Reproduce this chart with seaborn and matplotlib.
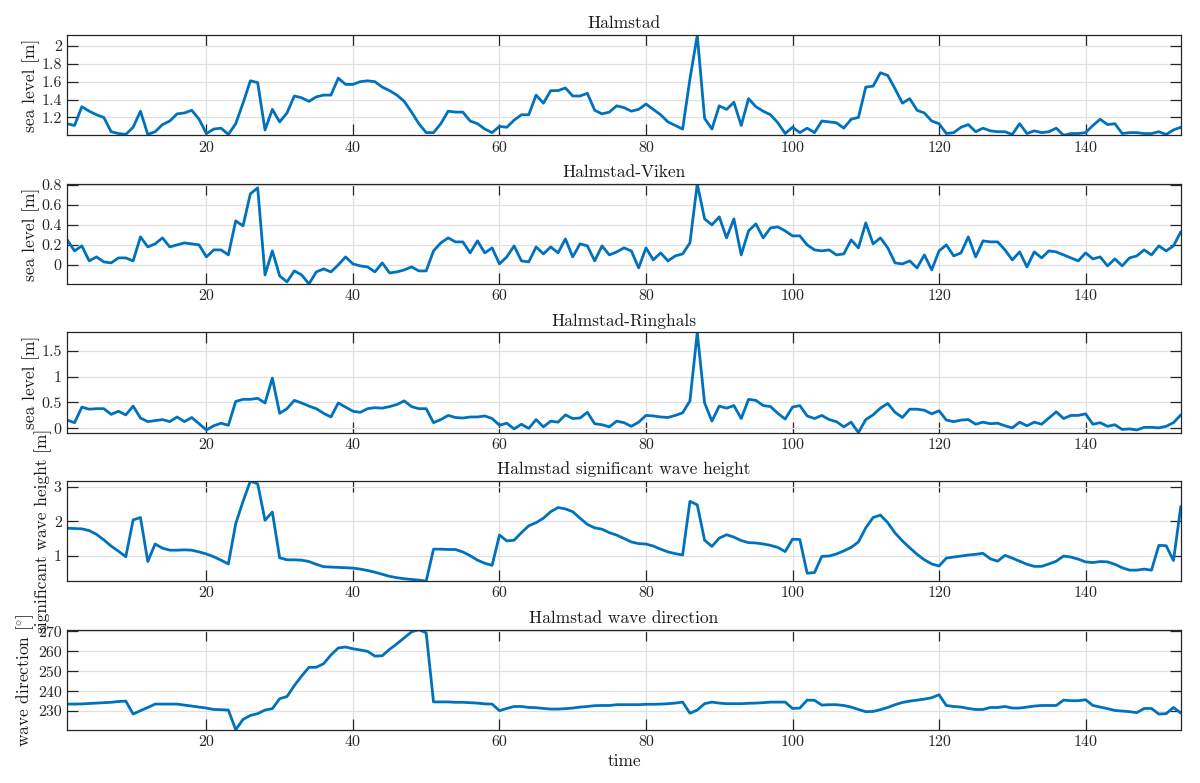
import numpy as np
import pandas as pd
import matplotlib
matplotlib.use("Agg")
import matplotlib.pyplot as plt
from matplotlib.ticker import FuncFormatter, FixedLocator
import seaborn as sns

time = list(range(1, 154))

halmstad = [
    1.13,1.11,1.32,1.27,1.23,1.2,1.04,1.02,1.01,1.09,
    1.27,1.01,1.04,1.12,1.16,1.24,1.25,1.28,1.18,1.02,
    1.07,1.08,1.01,1.13,1.36,1.61,1.59,1.06,1.29,1.15,
    1.25,1.44,1.42,1.38,1.43,1.45,1.45,1.64,1.57,1.57,
    1.6,1.61,1.6,1.54,1.5,1.45,1.38,1.26,1.13,1.03,
    1.03,1.13,1.27,1.26,1.26,1.16,1.13,1.07,1.03,1.1,
    1.09,1.17,1.23,1.23,1.45,1.36,1.5,1.5,1.53,1.44,
    1.44,1.47,1.28,1.24,1.26,1.33,1.31,1.27,1.29,1.35,
    1.29,1.23,1.15,1.11,1.07,1.63,2.12,1.19,1.07,1.33,
    1.29,1.37,1.11,1.41,1.32,1.27,1.23,1.14,1.02,1.09,
    1.03,1.08,1.03,1.16,1.15,1.14,1.08,1.18,1.2,1.54,
    1.55,1.7,1.67,1.52,1.36,1.41,1.28,1.25,1.16,1.13,
    1.02,1.03,1.09,1.12,1.04,1.08,1.05,1.04,1.04,1.01,
    1.13,1.02,1.05,1.03,1.04,1.08,1.0,1.02,1.02,1.03,
    1.11,1.18,1.12,1.13,1.02,1.03,1.03,1.02,1.02,1.04,
    1.01,1.06,1.09]

viken = [
    0.25,0.14,0.19,0.04,0.08,0.03,0.02,0.07,0.07,0.04,
    0.28,0.18,0.21,0.27,0.18,0.2,0.22,0.21,0.2,0.08,
    0.15,0.15,0.1,0.44,0.39,0.71,0.77,-0.1,0.14,-0.11,
    -0.17,-0.06,-0.1,-0.19,-0.07,-0.04,-0.07,0.0,0.08,0.01,
    -0.01,-0.02,-0.07,0.02,-0.08,-0.07,-0.05,-0.02,-0.06,-0.06,
    0.14,0.22,0.27,0.23,0.23,0.12,0.24,0.12,0.17,0.01,
    0.08,0.19,0.04,0.03,0.18,0.11,0.18,0.12,0.26,0.08,
    0.21,0.19,0.04,0.19,0.1,0.13,0.17,0.14,-0.03,0.17,
    0.05,0.12,0.04,0.09,0.11,0.22,0.81,0.46,0.4,0.48,
    0.27,0.46,0.1,0.34,0.41,0.27,0.37,0.38,0.34,0.29,
    0.29,0.2,0.15,0.14,0.15,0.1,0.11,0.25,0.17,0.42,
    0.21,0.27,0.17,0.02,0.01,0.04,-0.03,0.1,-0.05,0.14,
    0.2,0.09,0.12,0.28,0.08,0.24,0.23,0.23,0.15,0.05,
    0.13,-0.02,0.13,0.07,0.14,0.13,0.1,0.07,0.04,0.12,
    0.06,0.08,-0.01,0.06,-0.01,0.07,0.09,0.15,0.1,0.19,
    0.14,0.19,0.33]

ringhals = [
    0.16,0.11,0.41,0.37,0.38,0.38,0.27,0.33,0.26,0.43,
    0.2,0.13,0.15,0.17,0.13,0.22,0.13,0.21,0.09,-0.03,
    0.05,0.1,0.06,0.52,0.56,0.56,0.58,0.49,0.97,0.29,
    0.38,0.54,0.49,0.43,0.38,0.29,0.22,0.49,0.41,0.33,
    0.31,0.38,0.4,0.39,0.42,0.46,0.53,0.42,0.38,0.38,
    0.11,0.17,0.25,0.21,0.2,0.22,0.22,0.24,0.19,0.06,
    0.1,-0.01,0.08,0.0,0.17,0.03,0.14,0.12,0.26,0.19,
    0.2,0.31,0.09,0.07,0.03,0.14,0.11,0.04,0.12,0.25,
    0.24,0.22,0.21,0.25,0.3,0.53,1.85,0.49,0.14,0.43,
    0.39,0.44,0.19,0.56,0.54,0.44,0.42,0.29,0.18,0.41,
    0.44,0.24,0.19,0.25,0.17,0.13,0.03,0.12,-0.08,0.17,
    0.26,0.39,0.48,0.31,0.21,0.37,0.37,0.35,0.28,0.34,
    0.16,0.13,0.16,0.17,0.08,0.12,0.09,0.1,0.05,0.01,
    0.12,0.05,0.12,0.08,0.2,0.32,0.19,0.25,0.25,0.28,
    0.08,0.11,0.04,0.07,-0.02,-0.01,-0.03,0.02,0.02,0.01,
    0.04,0.11,0.26]

wave_height = [
    1.8,1.79,1.78,1.73,1.62,1.46,1.28,1.13,0.97,2.04,
    2.11,0.83,1.34,1.22,1.16,1.16,1.17,1.16,1.11,1.05,
    0.97,0.87,0.76,1.93,2.58,3.17,3.09,2.03,2.27,0.94,
    0.88,0.88,0.87,0.83,0.75,0.68,0.67,0.66,0.65,0.64,
    0.61,0.57,0.52,0.46,0.4,0.36,0.33,0.31,0.29,0.26,
    1.19,1.19,1.18,1.18,1.11,1.0,0.87,0.78,0.72,1.6,
    1.43,1.45,1.67,1.87,1.96,2.09,2.28,2.4,2.36,2.28,
    2.09,1.91,1.81,1.77,1.67,1.6,1.5,1.4,1.35,1.34,
    1.28,1.19,1.11,1.06,1.02,2.58,2.48,1.45,1.27,1.51,
    1.61,1.54,1.44,1.38,1.37,1.34,1.3,1.24,1.12,1.48,
    1.47,0.49,0.51,0.98,0.99,1.05,1.14,1.24,1.4,1.81,
    2.11,2.18,1.96,1.66,1.43,1.23,1.04,0.88,0.76,0.7,
    0.93,0.96,0.99,1.02,1.04,1.07,0.91,0.84,1.01,0.93,
    0.84,0.75,0.69,0.69,0.76,0.84,0.99,0.96,0.9,0.82,
    0.8,0.83,0.82,0.75,0.65,0.58,0.58,0.61,0.58,1.3,
    1.29,0.86,2.43]

wave_direction = [
    233.5,233.5,233.6,233.8,234.0,234.2,234.4,234.8,235.0,228.5,
    230.2,231.8,233.5,233.5,233.5,233.5,233.0,232.5,232.0,231.5,
    230.8,230.7,230.5,220.6,225.8,227.8,228.7,230.5,231.2,236.2,
    237.3,242.8,247.6,252.0,252.0,253.8,258.2,261.7,262.2,261.3,
    260.7,260.0,257.6,257.8,261.0,263.8,266.8,269.8,270.9,269.3,
    234.6,234.6,234.6,234.4,234.4,234.2,234.0,233.6,233.5,230.2,
    231.3,232.3,232.3,231.8,231.7,231.3,231.0,231.0,231.2,231.5,
    232.0,232.3,232.7,232.8,232.8,233.2,233.2,233.2,233.2,233.4,
    233.4,233.5,233.7,234.0,234.5,228.9,230.5,233.7,234.5,234.0,
    233.7,233.7,233.7,233.9,234.0,234.2,234.5,234.5,234.5,231.3,
    231.5,235.5,235.4,233.0,233.2,233.2,232.8,232.0,230.8,229.7,
    229.8,230.7,231.8,233.2,234.3,235.0,235.5,236.0,236.7,238.2,
    232.8,232.3,232.0,231.3,230.8,230.8,231.8,231.8,232.3,231.5,
    231.5,232.0,232.5,232.8,232.8,232.8,235.5,235.2,235.2,235.7,
    232.8,232.0,231.2,230.3,230.0,229.7,229.2,231.3,231.3,228.5,
    228.7,231.8,229.0]

titles = ["Halmstad", "Halmstad-Viken", "Halmstad-Ringhals",
          "Halmstad significant wave height", "Halmstad wave direction"]
ylabels = ["sea level [m]", "sea level [m]", "sea level [m]",
           "significant wave height [m]", r"wave direction [$^{\circ}$]"]
yticks = [[1.2, 1.4, 1.6, 1.8, 2.0],
          [0, 0.2, 0.4, 0.6, 0.8],
          [0, 0.5, 1.0, 1.5],
          [1, 2, 3],
          [230, 240, 250, 260, 270]]
xticks = [20, 40, 60, 80, 100, 120, 140]
series = [halmstad, viken, ringhals, wave_height, wave_direction]

sns.set_style("white")
plt.rcParams["font.family"] = ["cmr10", "DejaVu Serif"]
plt.rcParams["mathtext.fontset"] = "cm"
plt.rcParams["axes.unicode_minus"] = False
plt.rcParams["axes.formatter.use_mathtext"] = True

fig, axes = plt.subplots(5, 1, figsize=(12, 7.83), dpi=100)
fig.subplots_adjust(left=0.056, right=0.984, top=0.955, bottom=0.068, hspace=0.485)

fmt = FuncFormatter(lambda v, p: f"{v:g}")
line_color = "#0072BD"
for ax, vals, title, ylab, yt in zip(axes, series, titles, ylabels, yticks):
    df = pd.DataFrame({"time": time, "value": vals})
    sns.lineplot(data=df, x="time", y="value", ax=ax, color=line_color, linewidth=2.0)
    ax.set_xlim(min(time), max(time))
    ax.set_ylim(min(vals), max(vals))
    ax.xaxis.set_major_locator(FixedLocator(xticks))
    ax.yaxis.set_major_locator(FixedLocator(yt))
    ax.yaxis.set_major_formatter(fmt)
    ax.xaxis.set_major_formatter(fmt)
    ax.grid(True, color="#e0e0e0", linewidth=0.9)
    ax.set_axisbelow(True)
    ax.tick_params(direction="in", length=8, width=0.9, colors="#262626",
                   labelsize=11.5, top=True, right=True, bottom=True, left=True,
                   labelcolor="#262626", pad=4)
    for s in ax.spines.values():
        s.set_visible(True)
        s.set_color("#262626")
        s.set_linewidth(0.9)
    ax.set_title(title, fontsize=12.5, pad=5, color="#1a1a1a")
    ax.set_ylabel(ylab, fontsize=12.5, color="#1a1a1a", labelpad=1)
    ax.set_xlabel("")

axes[-1].set_xlabel("time", fontsize=12.5, color="#1a1a1a", labelpad=3)

fig.savefig("out.png", dpi=100)
